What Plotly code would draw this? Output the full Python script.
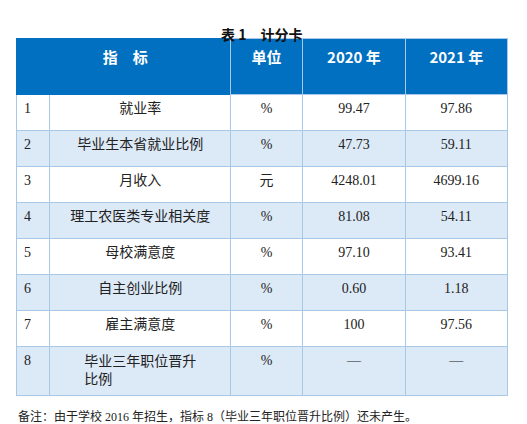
import plotly.graph_objects as go

nums = ["1", "2", "3", "4", "5", "6", "7", "8"]
indicators = ["就业率", "毕业生本省就业比例", "月收入", "理工农医类专业相关度",
              "母校满意度", "自主创业比例", "雇主满意度", "毕业三年职位晋升<br>比例"]
units = ["%", "%", "元", "%", "%", "%", "%", "%"]
y2020 = ["99.47", "47.73", "4248.01", "81.08", "97.10", "0.60", "100", "—"]
y2021 = ["97.86", "59.11", "4699.16", "54.11", "93.41", "1.18", "97.56", "—"]
headers = ["", "指　标　　", "单位", "2020 年", "2021 年"]

blue = "#0270c0"
light = "#dce9f6"
edge = "#a9c8e8"
fills = ["white" if i % 2 == 0 else light for i in range(len(nums))]

fig = go.Figure(go.Table(
    columnwidth=[34, 182, 72, 104, 102],
    header=dict(
        values=[f"<b>{h}</b>" for h in headers],
        fill_color=blue,
        line_color=[blue, blue, edge, edge, edge],
        font=dict(color="white", size=15, family="Noto Sans CJK SC"),
        align="center",
        height=56,
    ),
    cells=dict(
        values=[nums, indicators, units, y2020, y2021],
        fill_color=[fills] * 5,
        line_color=edge,
        font=dict(color="#222", size=14, family="Liberation Serif, Noto Sans CJK SC"),
        align=["left", "center", "center", "center", "center"],
        height=36,
    ),
))

fig.update_layout(
    width=527, height=424,
    margin=dict(l=8, r=28, t=30, b=20),
    paper_bgcolor="white",
    annotations=[
        dict(text="<b>表 1　计分卡</b>", x=0.5, y=1, xref="paper", yref="paper",
             yshift=16, showarrow=False, font=dict(size=14, family="Noto Sans CJK SC", color="#111")),
        dict(text="备注：由于学校 2016 年招生，指标 8（毕业三年职位晋升比例）还未产生。",
             x=0, y=0, xref="paper", yref="paper", xanchor="left", yanchor="middle", yshift=-4,
             showarrow=False, font=dict(size=12, family="Liberation Serif, Noto Sans CJK SC", color="#222")),
    ],
)

fig.write_html("out.html")
